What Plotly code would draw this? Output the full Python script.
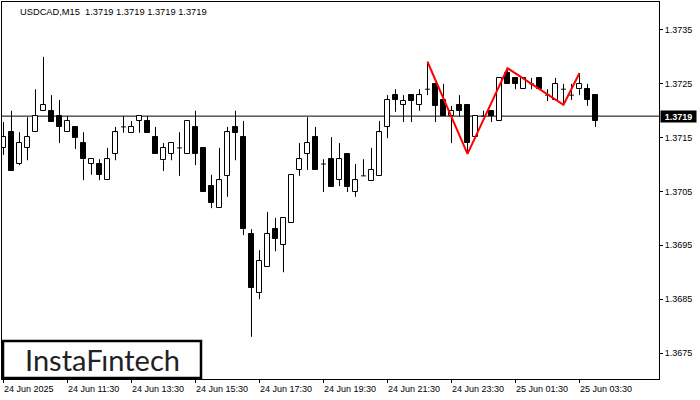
import plotly.graph_objects as go

# ---------------- data (USDCAD M15) ----------------
opens = [1.37131, 1.37160, 1.37101, 1.37131, 1.37160, 1.37200, 1.37200, 1.37190, 1.37160, 1.37170,
         1.37140, 1.37101, 1.37101, 1.37071, 1.37120, 1.37170, 1.37159, 1.37181, 1.37181, 1.37151,
         1.37108, 1.37120, 1.37131, 1.37120, 1.37170, 1.37131, 1.37060, 1.37019, 1.37079, 1.37170,
         1.37151, 1.36971, 1.36861, 1.36910, 1.36980, 1.36951, 1.36991, 1.37090, 1.37120, 1.37151,
         1.37101, 1.37110, 1.37071, 1.37120, 1.37049, 1.37079, 1.37069, 1.37079, 1.37170, 1.37229,
         1.37211, 1.37229, 1.37211, 1.37240, 1.37250, 1.37220, 1.37190, 1.37211, 1.37211, 1.37151,
         1.37190, 1.37200, 1.37181, 1.37270, 1.37261, 1.37240, 1.37250, 1.37261, 1.37229, 1.37220,
         1.37240, 1.37229, 1.37240, 1.37240, 1.37229]
highs = [1.37179, 1.37200, 1.37160, 1.37188, 1.37240, 1.37300, 1.37229, 1.37220, 1.37190, 1.37170,
         1.37160, 1.37110, 1.37110, 1.37131, 1.37170, 1.37190, 1.37181, 1.37190, 1.37190, 1.37170,
         1.37140, 1.37140, 1.37160, 1.37181, 1.37200, 1.37131, 1.37081, 1.37131, 1.37170, 1.37200,
         1.37181, 1.36980, 1.36941, 1.37012, 1.37001, 1.37001, 1.37081, 1.37140, 1.37188, 1.37170,
         1.37110, 1.37151, 1.37140, 1.37120, 1.37101, 1.37110, 1.37131, 1.37181, 1.37229, 1.37240,
         1.37229, 1.37229, 1.37240, 1.37291, 1.37250, 1.37250, 1.37209, 1.37229, 1.37211, 1.37190,
         1.37200, 1.37200, 1.37261, 1.37279, 1.37261, 1.37261, 1.37261, 1.37261, 1.37240, 1.37261,
         1.37250, 1.37250, 1.37270, 1.37250, 1.37229]
lows = [1.37118, 1.37088, 1.37099, 1.37108, 1.37160, 1.37200, 1.37179, 1.37140, 1.37160, 1.37129,
        1.37071, 1.37081, 1.37071, 1.37071, 1.37108, 1.37159, 1.37159, 1.37159, 1.37159, 1.37120,
        1.37088, 1.37108, 1.37079, 1.37120, 1.37099, 1.37049, 1.37019, 1.37019, 1.37040, 1.37108,
        1.36969, 1.36780, 1.36850, 1.36910, 1.36939, 1.36900, 1.36991, 1.37079, 1.37090, 1.37090,
        1.37049, 1.37058, 1.37060, 1.37049, 1.37040, 1.37079, 1.37069, 1.37079, 1.37149, 1.37198,
        1.37179, 1.37179, 1.37200, 1.37229, 1.37179, 1.37190, 1.37140, 1.37190, 1.37120, 1.37149,
        1.37190, 1.37179, 1.37181, 1.37250, 1.37240, 1.37240, 1.37240, 1.37240, 1.37218, 1.37220,
        1.37211, 1.37220, 1.37229, 1.37209, 1.37170]
closes = [1.37151, 1.37088, 1.37140, 1.37151, 1.37190, 1.37211, 1.37179, 1.37170, 1.37181, 1.37149,
          1.37110, 1.37110, 1.37081, 1.37110, 1.37160, 1.37170, 1.37170, 1.37190, 1.37159, 1.37120,
          1.37131, 1.37140, 1.37131, 1.37181, 1.37120, 1.37049, 1.37029, 1.37071, 1.37160, 1.37159,
          1.36980, 1.36871, 1.36921, 1.36971, 1.36962, 1.37001, 1.37081, 1.37110, 1.37140, 1.37090,
          1.37101, 1.37058, 1.37110, 1.37058, 1.37071, 1.37079, 1.37090, 1.37160, 1.37220, 1.37220,
          1.37218, 1.37218, 1.37229, 1.37240, 1.37209, 1.37190, 1.37200, 1.37200, 1.37140, 1.37190,
          1.37190, 1.37190, 1.37261, 1.37250, 1.37250, 1.37261, 1.37250, 1.37240, 1.37229, 1.37250,
          1.37240, 1.37229, 1.37250, 1.37220, 1.37181]

# pattern (triple top) vertices: bar index and price
pattern_bars = [53, 58, 63, 70, 72]
pattern_prices = [1.37291, 1.37120, 1.37279, 1.37211, 1.37270]

current_price = 1.3719
y_ticks = [1.3675, 1.3685, 1.3695, 1.3705, 1.3715, 1.3725, 1.3735]
x_tick_bars = [0, 8, 16, 24, 32, 40, 48, 56, 64, 72]
x_tick_labels = ["24 Jun 2025", "24 Jun 11:30", "24 Jun 13:30", "24 Jun 15:30", "24 Jun 17:30",
                 "24 Jun 19:30", "24 Jun 21:30", "24 Jun 23:30", "25 Jun 01:30", "25 Jun 03:30"]

FONT = "Liberation Sans"
n = len(opens)
idx = list(range(n))

# wicks + doji ticks
wx, wy = [], []
for i in range(n):
    o, h, l, c = opens[i], highs[i], lows[i], closes[i]
    top, bot = max(o, c), min(o, c)
    if h > top:
        wx += [i, i, None]; wy += [h, top, None]
    if l < bot:
        wx += [i, i, None]; wy += [bot, l, None]
    if o == c:
        wx += [i - 0.3, i + 0.3, None]; wy += [o, o, None]

up = [i for i in idx if closes[i] > opens[i]]
dn = [i for i in idx if closes[i] < opens[i]]

fig = go.Figure()
fig.add_trace(go.Scatter(x=wx, y=wy, mode="lines", line=dict(color="black", width=1),
                         hoverinfo="skip", showlegend=False))
fig.add_trace(go.Bar(x=up, base=[opens[i] for i in up], y=[closes[i] - opens[i] for i in up],
                     width=0.55, marker=dict(color="white", line=dict(color="black", width=1)),
                     showlegend=False))
fig.add_trace(go.Bar(x=dn, base=[closes[i] for i in dn], y=[opens[i] - closes[i] for i in dn],
                     width=0.55, marker=dict(color="black", line=dict(color="black", width=1)),
                     showlegend=False))
fig.add_trace(go.Scatter(x=pattern_bars, y=pattern_prices, mode="lines",
                         line=dict(color="#ff0000", width=2), showlegend=False))

# current price line
fig.add_shape(type="line", xref="paper", x0=0, x1=1, yref="y", y0=current_price, y1=current_price,
              line=dict(color="black", width=1), layer="below")

annotations = []
for b, t in zip(x_tick_bars, x_tick_labels):
    annotations.append(dict(x=b, xref="x", y=-0.027, yref="paper", text=t, showarrow=False,
                            xanchor="left", yanchor="middle", xshift=-2,
                            font=dict(family=FONT, size=9, color="black")))
annotations.append(dict(x=1, xref="paper", y=current_price, yref="y", text="<b>%.4f</b>" % current_price,
                        showarrow=False, xanchor="left", yanchor="middle", xshift=1,
                        bgcolor="black", font=dict(family=FONT, size=9, color="white"),
                        width=34, height=10, borderpad=0.5))
annotations.append(dict(x=0, xref="paper", y=1, yref="paper", xshift=16, yshift=-3,
                        text="USDCAD,M15  1.3719 1.3719 1.3719 1.3719", showarrow=False,
                        xanchor="left", yanchor="top", font=dict(family=FONT, size=9.3, color="black")))
annotations.append(dict(x=(102 - 2) / 657, xref="paper", y=(379 - 359) / 377, yref="paper",
                        text="InstaF\u0131ntech", showarrow=False, xanchor="center", yanchor="middle",
                        font=dict(family="Lato", size=29, color="#222222")))
fig.update_layout(annotations=annotations)

fig.add_shape(type="rect", xref="paper", yref="paper", x0=(3 - 2) / 657, x1=(201 - 2) / 657,
              y0=(379 - 378) / 377, y1=(379 - 341) / 377,
              line=dict(color="black", width=2.5), fillcolor="white", layer="above")

fig.update_layout(
    width=700, height=400,
    margin=dict(l=2, r=41, t=2, b=21, autoexpand=False),
    paper_bgcolor="white", plot_bgcolor="white",
    barmode="overlay", bargap=0,
    xaxis=dict(range=[-0.1875, 81.9375], showgrid=False, zeroline=False,
               showline=True, mirror=True, linecolor="black", linewidth=1,
               tickmode="array", tickvals=x_tick_bars, ticktext=[""] * len(x_tick_bars),
               ticks="outside", ticklen=3, tickcolor="black", showticklabels=False,
               fixedrange=True),
    yaxis=dict(range=[1.367017, 1.37402], side="right", showgrid=False, zeroline=False,
               showline=True, mirror=True, linecolor="black", linewidth=1,
               tickmode="array", tickvals=y_ticks, ticktext=["%.4f" % v for v in y_ticks],
               ticks="outside", ticklen=3, tickcolor="black",
               tickfont=dict(family=FONT, size=9, color="black"), fixedrange=True),
    showlegend=False,
)

fig.write_html("out.html", config={"displayModeBar": False},
               post_script="document.body.style.margin='0';document.body.style.padding='0';")
